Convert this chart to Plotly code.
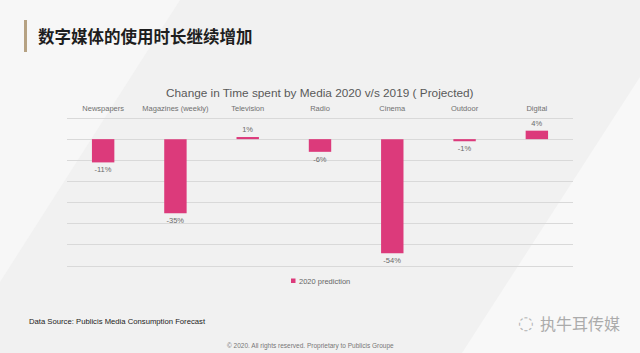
import plotly.graph_objects as go

categories = ["Newspapers", "Magazines (weekly)", "Television", "Radio", "Cinema", "Outdoor", "Digital"]
values = [-11, -35, 1, -6, -54, -1, 4]
labels = ["-11%", "-35%", "1%", "-6%", "-54%", "-1%", "4%"]
series_name = "2020 prediction"
y_ticks = [10, 0, -10, -20, -30, -40, -50, -60]

W, H = 640, 353
def px(x): return x / W
def py(y): return 1 - y / H

BAR_COLOR = "#dc3a7b"

fig = go.Figure()
fig.add_trace(go.Bar(
    x=categories, y=values, name=series_name,
    marker=dict(color=BAR_COLOR, line=dict(width=0)),
    width=0.31,
    text=labels, textposition="outside", cliponaxis=False,
    textfont=dict(size=7.5, color="#6a6a6a", family="Liberation Sans"),
    showlegend=False,
))

# y range slightly padded so the outer gridlines are drawn
y_lo, y_hi = -60.5, 10.5
ppu = (266 - 118) / 70.0
top_px = 118 - 0.5 * ppu
bot_px = 266 + 0.5 * ppu

bg_shapes = [
    dict(type="path", xref="paper", yref="paper", layer="below",
         path=f"M 0 1 L {px(180)} 1 L 0 {py(282)} Z",
         fillcolor="#f7f7f7", line=dict(width=0)),
    dict(type="path", xref="paper", yref="paper", layer="below",
         path=f"M 1 {py(77)} L {px(462)} 0 L 1 0 Z",
         fillcolor="#f8f8f8", line=dict(width=0)),
    dict(type="rect", xref="paper", yref="paper", layer="above",
         x0=px(24), x1=px(27), y0=py(52), y1=py(20),
         fillcolor="#b6a283", line=dict(width=0)),
    # legend swatch
    dict(type="rect", xref="paper", yref="paper", layer="above",
         x0=px(291), x1=px(295.5), y0=py(283), y1=py(278.5),
         fillcolor=BAR_COLOR, line=dict(width=0)),
]

fig.update_layout(
    width=W, height=H,
    margin=dict(l=0, r=0, t=0, b=0),
    paper_bgcolor="#f1f1f1",
    plot_bgcolor="rgba(0,0,0,0)",
    shapes=bg_shapes,
    font=dict(family="Liberation Sans", color="#666"),
    xaxis=dict(
        domain=[px(67), px(573)],
        side="top", showgrid=False, showline=False, zeroline=False,
        ticks="", tickfont=dict(size=7.5, color="#707070"),
        ticklabelstandoff=3,
        fixedrange=True,
    ),
    yaxis=dict(
        domain=[py(bot_px), py(top_px)],
        range=[y_lo, y_hi], tickvals=y_ticks, showticklabels=False,
        showgrid=True, gridcolor="#d9d9d9", gridwidth=1,
        zeroline=True, zerolinecolor="#d9d9d9", zerolinewidth=1,
        showline=False, ticks="",
    ),
    showlegend=False,
    annotations=[
        dict(text="Change in Time spent by Media 2020 v/s 2019 ( Projected)",
             xref="paper", yref="paper", x=px(320), y=py(93.5), showarrow=False,
             xanchor="center", yanchor="middle",
             font=dict(size=11.8, color="#595959", family="Liberation Sans")),
        dict(text=series_name,
             xref="paper", yref="paper", x=px(297), y=py(281), showarrow=False,
             xanchor="left", yanchor="middle",
             font=dict(size=7.5, color="#666", family="Liberation Sans")),
        dict(text="<b>数字媒体的使用时长继续增加</b>",
             xref="paper", yref="paper", x=px(36), y=py(36), showarrow=False,
             xanchor="left", yanchor="middle",
             font=dict(size=16.5, color="#1e1e1e", family="Noto Sans CJK SC")),
        dict(text="Data Source: Publicis Media Consumption Forecast",
             xref="paper", yref="paper", x=px(27), y=py(321), showarrow=False,
             xanchor="left", yanchor="middle",
             font=dict(size=7.7, color="#222", family="Liberation Sans")),
        dict(text="© 2020. All rights reserved. Proprietary to Publicis Groupe",
             xref="paper", yref="paper", x=px(310), y=py(345.5), showarrow=False,
             xanchor="center", yanchor="middle",
             font=dict(size=6.5, color="#777", family="Liberation Sans")),
        dict(text="执牛耳传媒",
             xref="paper", yref="paper", x=px(538), y=py(323), showarrow=False,
             xanchor="left", yanchor="middle",
             font=dict(size=16, color="#ababab", family="Noto Sans CJK SC")),
        dict(text="◌",
             xref="paper", yref="paper", x=px(526), y=py(322), showarrow=False,
             xanchor="center", yanchor="middle",
             font=dict(size=18, color="#b5b5b5", family="DejaVu Sans")),
    ],
)

fig.write_html("out.html")
